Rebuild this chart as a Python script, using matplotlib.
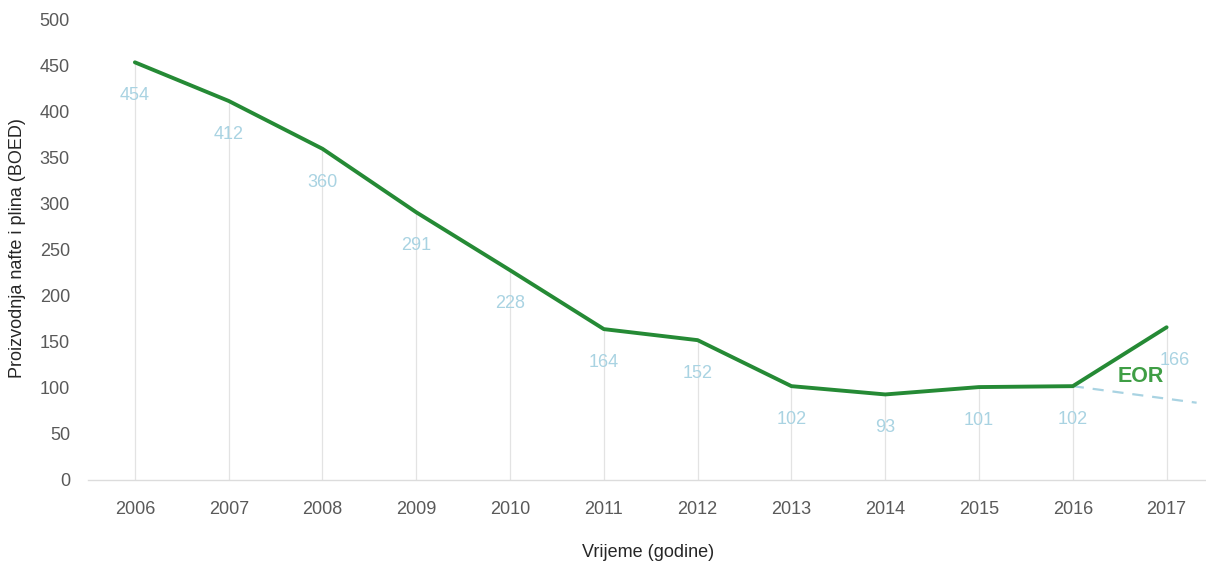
import matplotlib
matplotlib.use("Agg")
import matplotlib.pyplot as plt

plt.rcParams['font.family'] = ['Liberation Sans', 'DejaVu Sans']

# Production data (BOED)
years = ["2006", "2007", "2008", "2009", "2010", "2011",
         "2012", "2013", "2014", "2015", "2016", "2017"]
production = [454, 412, 360, 291, 228, 164, 152, 102, 93, 101, 102, 166]

# Natural decline trend without EOR, starting at 2016
decline_pos = [10, 11.32]
decline_values = [102, 84]

y_ticks = [0, 50, 100, 150, 200, 250, 300, 350, 400, 450, 500]

LINE_GREEN = "#258a35"
LABEL_BLUE = "#a9d3e2"
TEXT_GRAY = "#595959"

fig = plt.figure(figsize=(12.06, 5.66), dpi=100)
ax = fig.add_axes([88 / 1206, 86 / 566, 1118 / 1206, 460 / 566])

x = list(range(len(years)))

# thin drop lines from each point to the axis
ax.vlines(x, 0, production, color="#e3e3e3", linewidth=0.9, zorder=1)

ax.plot(decline_pos, decline_values, color="#a9d3e2", linewidth=1.6,
        linestyle=(0, (5, 4)), zorder=2)
ax.plot(x, production, color=LINE_GREEN, linewidth=2.8, zorder=3,
        solid_capstyle="round", solid_joinstyle="round")

for xi, v in zip(x, production):
    dx = 6 if xi == len(years) - 1 else 0
    ax.annotate(str(v), (xi, v), xytext=(dx, -24), textcoords="offset points",
                ha="center", va="center", fontsize=13, color=LABEL_BLUE,
                zorder=4)

ax.text(10.72, 112, "EOR", color="#3f9e45", fontsize=15.5, fontweight="bold",
        ha="center", va="center", zorder=4)

ax.set_xlim(-0.5, 11.42)
ax.set_ylim(0, 500)
ax.set_xticks(x)
ax.set_xticklabels(years)
ax.set_yticks(y_ticks)

for s in ["top", "right", "left"]:
    ax.spines[s].set_visible(False)
ax.spines["bottom"].set_color("#dcdcdc")
ax.spines["bottom"].set_linewidth(1.0)

ax.tick_params(axis="both", length=0, labelsize=13, labelcolor=TEXT_GRAY)
ax.tick_params(axis="x", pad=15)
ax.tick_params(axis="y", pad=13)

ax.set_ylabel("Proizvodnja nafte i plina (BOED)", fontsize=13,
              color="#262626")
ax.yaxis.set_label_coords(-62 / 1118, (480 - 248) / 460)
ax.set_xlabel("Vrijeme (godine)", fontsize=13, color="#262626")
ax.xaxis.set_label_coords((648 - 88) / 1118, -64 / 460)

fig.savefig("out.png", dpi=100)
